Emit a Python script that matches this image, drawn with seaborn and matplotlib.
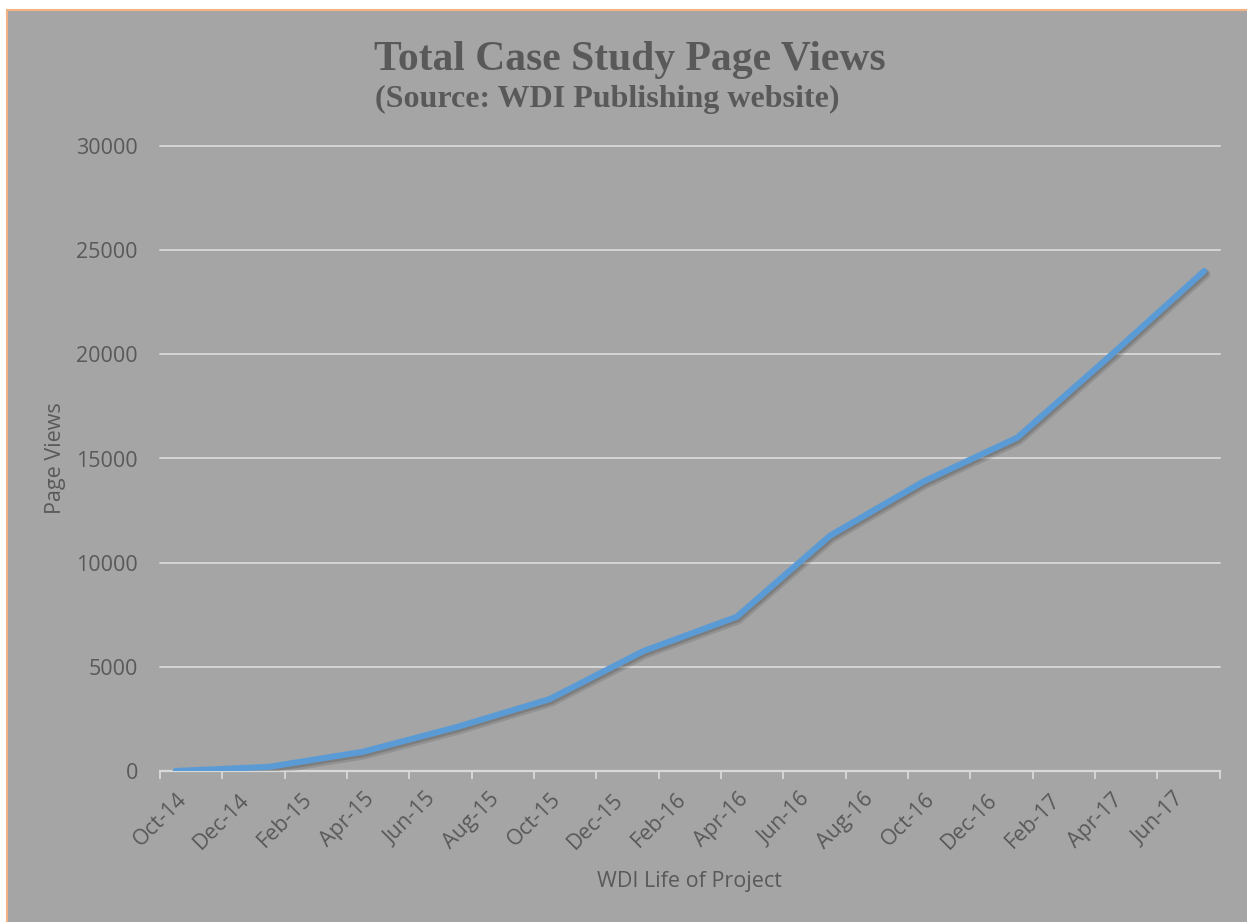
#!/usr/bin/env python
"""Total case study page views over the WDI project life."""

import matplotlib
matplotlib.use('Agg')
import matplotlib.pyplot as plt
import matplotlib.patheffects as pe
import matplotlib.transforms as mtransforms
from matplotlib.patches import Rectangle
import seaborn as sns
import pandas as pd
import numpy as np

# Data (quarterly points)
months = ['2014-10', '2015-01', '2015-04', '2015-07', '2015-10', '2016-01',
          '2016-04', '2016-07', '2016-10', '2017-01', '2017-04', '2017-07']
views = [0, 200, 920, 2100, 3450, 5750, 7400, 11300, 13900, 16000, 19950, 24000]
y_ticks = [0, 5000, 10000, 15000, 20000, 25000, 30000]

BG = '#a5a5a5'
GRID = '#d9d9d9'
TEXT = '#595959'
LINE = '#5b9bd5'

sns.set_theme(style='white')
plt.rcParams['font.family'] = ['Open Sans', 'DejaVu Sans']

start = pd.Timestamp('2014-10-01')


def month_index(d):
    d = pd.DatetimeIndex(d)
    return (d.year - start.year) * 12 + d.month - start.month


df = pd.DataFrame({'date': pd.to_datetime(months), 'views': views})
df['idx'] = month_index(df['date'])

label_dates = pd.date_range('2014-10-01', '2017-06-01', freq='2MS')
label_pos = month_index(label_dates)
n_slots = 34
bounds = np.arange(-0.5, n_slots, 2)

fig = plt.figure(figsize=(12.47, 9.22), dpi=100, facecolor='white')
fig.patches.append(Rectangle((7 / 1247, -0.02), 1.05, 1 - 10 / 922 + 0.02,
                             transform=fig.transFigure, facecolor=BG,
                             edgecolor='#f4b183', linewidth=1.5, zorder=-5))

ax = fig.add_axes([160 / 1247, 1 - 771 / 922, 1059.8 / 1247, 625 / 922])
ax.set_facecolor(BG)

sns.lineplot(data=df, x='idx', y='views', ax=ax, color=LINE, linewidth=4.4,
             solid_capstyle='round', solid_joinstyle='round', zorder=5)
# soft drop shadow like the original
ax.lines[0].set_path_effects([
    pe.SimpleLineShadow(offset=(1.2, -2.2), shadow_color='#505050', alpha=0.22,
                        linewidth=6.5),
    pe.SimpleLineShadow(offset=(1.0, -1.6), shadow_color='#404040', alpha=0.25),
    pe.Normal()])

ax.set_xlim(-0.5, n_slots - 0.5)
ax.set_ylim(0, 30000)
ax.set_yticks(y_ticks)
ax.grid(axis='y', color=GRID, linewidth=1.3)
ax.grid(axis='x', visible=False)
for gl in ax.get_ygridlines():
    gl.set_clip_on(False)

for s in ['top', 'right', 'left']:
    ax.spines[s].set_visible(False)
ax.spines['bottom'].set_color(GRID)
ax.spines['bottom'].set_linewidth(1.6)

ax.set_xticks(label_pos)
ax.set_xticklabels([d.strftime('%b-%y') for d in label_dates],
                   rotation=45, ha='right', va='top', rotation_mode='anchor')
ax.set_xticks(bounds, minor=True)
ax.tick_params(axis='x', which='major', length=0, pad=13, labelsize=15.5,
               labelcolor=TEXT)
ax.tick_params(axis='x', which='minor', bottom=True, length=5.5, width=1.3,
               color=GRID, direction='out')
ax.tick_params(axis='y', length=0, pad=16, labelsize=15.5, labelcolor=TEXT)
shift = mtransforms.ScaledTranslation(1 / 100, 0, fig.dpi_scale_trans)
for lbl in ax.get_xticklabels():
    lbl.set_transform(lbl.get_transform() + shift)

ax.set_xlabel('WDI Life of Project', fontsize=15.5, color=TEXT)
ax.xaxis.set_label_coords(0.5, -(881 - 771) / 625)
ax.xaxis.label.set_va('center')
ax.set_ylabel('Page Views', fontsize=15.5, color=TEXT)
ax.yaxis.set_label_coords((66 - 160) / 1059.8, 0.5)

fig.text(630 / 1247, 1 - 70 / 922, 'Total Case Study Page Views',
         family='Liberation Serif', weight='bold', fontsize=30, color=TEXT,
         ha='center', va='baseline')
fig.text(607 / 1247, 1 - 107 / 922, '(Source: WDI Publishing website)',
         family='Liberation Serif', weight='bold', fontsize=23, color=TEXT,
         ha='center', va='baseline')

fig.savefig('out.png', dpi=100, facecolor='white')
